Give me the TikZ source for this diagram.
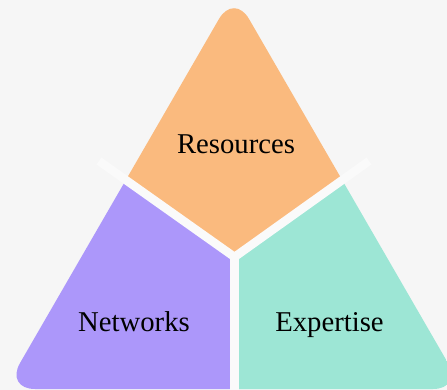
\documentclass[tikz,border=0pt]{standalone}
\usepackage{fontspec}
\setmainfont{Liberation Serif}
\usepackage{tikz}
\definecolor{bggrey}{HTML}{F6F6F6}
\definecolor{resorange}{HTML}{FABA7E}
\definecolor{netpurple}{HTML}{AC97FA}
\definecolor{expteal}{HTML}{9DE6D5}
\definecolor{splitwhite}{HTML}{FAFAFA}

\begin{document}
\begin{tikzpicture}[x=1pt,y=-1pt,
		divider/.style={splitwhite, line width=8.5pt},
		areatext/.style={font=\fontsize{28.7}{34}\selectfont, anchor=base}]
	\fill[bggrey] (0,0) rectangle (447,390);
	\useasboundingbox (0,0) rectangle (447,390);
	% corners of the triangle and the meeting point of the three parts
	\coordinate (apex) at (234,-7);
	\coordinate (baseleft) at (5,389);
	\coordinate (baseright) at (463,389);
	\coordinate (centre) at (234.5,257);
	\coordinate (leftend) at (99,161);
	\coordinate (rightend) at (369,161);
	\coordinate (bottomend) at (234.5,400);
	\begin{scope}
		\clip[rounded corners=30pt] (apex) -- (baseleft) -- (baseright) -- cycle;
		\fill[resorange] (centre) -- (-36,65) -- (234,-60) -- (505,65) -- cycle;
		\fill[netpurple] (centre) -- (-36,65) -- (-36,450) -- (234.5,450) -- cycle;
		\fill[expteal] (centre) -- (234.5,450) -- (505,450) -- (505,65) -- cycle;
	\end{scope}
	\draw[divider] (leftend) -- (centre) -- (rightend);
	\draw[divider] (centre) -- (bottomend);
	\node[areatext] (resources) at (236,154) {Resources};
	\node[areatext] (networks) at (134,331) {Networks};
	\node[areatext] (expertise) at (329.5,331) {Expertise};
\end{tikzpicture}
\end{document}
